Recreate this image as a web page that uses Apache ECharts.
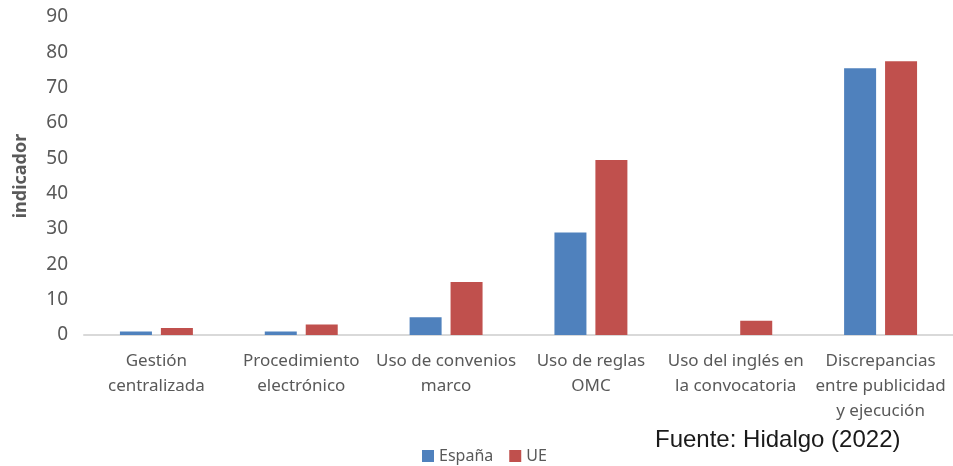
<!DOCTYPE html>
<html>
<head>
<meta charset="utf-8">
<script src="https://cdn.jsdelivr.net/npm/echarts@6/dist/echarts.min.js"></script>
<style>
  html, body { margin: 0; padding: 0; background: #fff; }
  #chart { width: 953px; height: 466px; }
</style>
</head>
<body>
<div id="chart"></div>
<script>
// categorías del eje x
const categories = [
  'Gestión\ncentralizada',
  'Procedimiento\nelectrónico',
  'Uso de convenios\nmarco',
  'Uso de reglas\nOMC',
  'Uso del inglés en\nla convocatoria',
  'Discrepancias\nentre publicidad\ny ejecución'
]
// valores
const espana = [1, 1, 5, 29, 0, 75.5]
const ue = [2, 3, 15, 49.5, 4, 77.5]
const seriesNames = ['España', 'UE']
const yTicks = { min: 0, max: 90, interval: 10 }

const gray = '#595959'
const font = '"Noto Sans", "Open Sans", sans-serif'

var myChart = echarts.init(document.getElementById('chart'), null, { renderer: 'canvas' })

var option = {
  animation: false,
  color: ['#4F81BD', '#C0504D'],
  textStyle: { fontFamily: font },
  grid: {
    left: 84,
    right: 0,
    top: 17,
    bottom: 131
  },
  legend: {
    data: seriesNames,
    left: 418,
    top: 444,
    padding: 4,
    itemWidth: 12,
    itemHeight: 12,
    itemGap: 16,
    icon: 'rect',
    textStyle: { color: gray, fontSize: 16, fontFamily: font }
  },
  xAxis: {
    type: 'category',
    data: categories,
    axisLine: { show: true, lineStyle: { color: '#d9d9d9', width: 2 } },
    axisTick: { show: false },
    splitLine: { show: false },
    axisLabel: {
      interval: 0,
      color: gray,
      fontSize: 17,
      lineHeight: 25,
      margin: 14,
      fontFamily: font
    }
  },
  yAxis: {
    type: 'value',
    min: yTicks.min,
    max: yTicks.max,
    interval: yTicks.interval,
    name: 'indicador',
    nameLocation: 'middle',
    nameGap: 54,
    nameRotate: 90,
    nameTextStyle: { color: gray, fontSize: 18, fontWeight: 'bold', fontFamily: font },
    axisLine: { show: false },
    axisTick: { show: false },
    splitLine: { show: false },
    axisLabel: { color: gray, fontSize: 19, margin: 16, fontFamily: font }
  },
  series: [
    {
      name: seriesNames[0],
      type: 'bar',
      data: espana,
      barWidth: 32,
      barGap: '28%'
    },
    {
      name: seriesNames[1],
      type: 'bar',
      data: ue,
      barWidth: 32,
      barGap: '28%'
    }
  ],
  graphic: [
    {
      type: 'text',
      left: 655,
      top: 428,
      style: {
        text: 'Fuente: Hidalgo (2022)',
        fill: '#1a1a1a',
        fontSize: 24,
        fontFamily: '"Liberation Sans Narrow", "Liberation Sans", sans-serif'
      }
    }
  ]
}

myChart.setOption(option, true)
</script>
</body>
</html>
